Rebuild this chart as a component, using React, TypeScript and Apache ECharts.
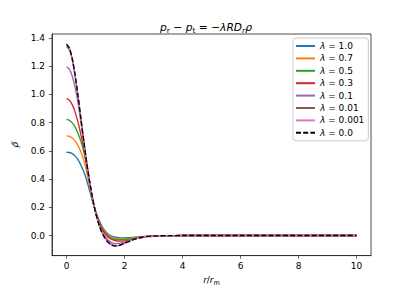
import React, { useEffect, useRef } from "react";
import * as echarts from "echarts";

const R = [0, 0.1, 0.2, 0.3, 0.4, 0.5, 0.6, 0.7, 0.8, 0.9, 1.0, 1.1, 1.2, 1.3, 1.4, 1.5, 1.6, 1.7, 1.8, 1.9, 2.0,
  2.2, 2.4, 2.6, 2.8, 3.0, 3.5, 4, 5, 6, 7, 8, 9, 10];

const lambdaLabels = ["1.0", "0.7", "0.5", "0.3", "0.1", "0.01", "0.001", "0.0"];

const rhoL10 = [0.590, 0.588, 0.580, 0.562, 0.535, 0.497, 0.450, 0.390, 0.315, 0.240, 0.175, 0.120, 0.075, 0.042, 0.018, 0.002, -0.007, -0.012, -0.015, -0.016, -0.016,
  -0.014, -0.011, -0.008, -0.005, -0.003, -0.001, 0, 0, 0, 0, 0, 0, 0];
const rhoL07 = [0.706, 0.702, 0.690, 0.668, 0.635, 0.590, 0.530, 0.445, 0.345, 0.250, 0.172, 0.112, 0.067, 0.034, 0.010, -0.006, -0.015, -0.020, -0.022, -0.023, -0.022,
  -0.018, -0.013, -0.009, -0.005, -0.003, -0.001, 0, 0, 0, 0, 0, 0, 0];
const rhoL05 = [0.822, 0.816, 0.798, 0.768, 0.722, 0.665, 0.590, 0.490, 0.370, 0.255, 0.170, 0.108, 0.062, 0.028, 0.003, -0.013, -0.023, -0.028, -0.030, -0.030, -0.028,
  -0.023, -0.016, -0.010, -0.006, -0.003, -0.001, 0, 0, 0, 0, 0, 0, 0];
const rhoL03 = [0.969, 0.958, 0.925, 0.872, 0.800, 0.712, 0.610, 0.495, 0.375, 0.258, 0.172, 0.105, 0.055, 0.020, -0.005, -0.021, -0.031, -0.037, -0.040, -0.040, -0.038,
  -0.031, -0.022, -0.014, -0.008, -0.005, -0.001, 0, 0, 0, 0, 0, 0, 0];
const rhoL01 = [1.195, 1.178, 1.128, 1.045, 0.935, 0.800, 0.650, 0.500, 0.372, 0.258, 0.168, 0.095, 0.040, 0.002, -0.025, -0.043, -0.053, -0.057, -0.056, -0.052, -0.046,
  -0.033, -0.021, -0.012, -0.006, -0.003, -0.0005, 0, 0, 0, 0, 0, 0, 0];
const rhoL001 = [1.340, 1.314, 1.240, 1.124, 0.978, 0.818, 0.659, 0.510, 0.379, 0.262, 0.165, 0.091, 0.033, -0.008, -0.038, -0.057, -0.068, -0.071, -0.069, -0.062, -0.054,
  -0.036, -0.022, -0.012, -0.006, -0.003, -0.0005, 0, 0, 0, 0, 0, 0, 0];
const rhoL0001 = [1.354, 1.327, 1.251, 1.132, 0.984, 0.822, 0.661, 0.512, 0.380, 0.262, 0.165, 0.090, 0.032, -0.010, -0.040, -0.060, -0.071, -0.074, -0.071, -0.064, -0.055,
  -0.037, -0.022, -0.012, -0.006, -0.003, -0.0005, 0, 0, 0, 0, 0, 0, 0];
const rhoL0 = [1.355, 1.328, 1.252, 1.133, 0.985, 0.823, 0.662, 0.512, 0.380, 0.262, 0.165, 0.090, 0.032, -0.010, -0.040, -0.060, -0.071, -0.074, -0.071, -0.064, -0.055,
  -0.037, -0.022, -0.012, -0.006, -0.003, -0.0005, 0, 0, 0, 0, 0, 0, 0];

const seriesValues = [rhoL10, rhoL07, rhoL05, rhoL03, rhoL01, rhoL001, rhoL0001, rhoL0];
const colors = ["#1f77b4", "#ff7f0e", "#2ca02c", "#d62728", "#9467bd", "#8c564b", "#e377c2", "#000000"];

const xTicks = [0, 2, 4, 6, 8, 10];
const yTicks = [0, 0.2, 0.4, 0.6, 0.8, 1.0, 1.2, 1.4];

const FONT = "DejaVu Sans";

export default function App() {
  const ref = useRef<HTMLDivElement>(null);
  useEffect(() => {
    if (!ref.current) return;
    const chart = echarts.init(ref.current, undefined, { renderer: "svg" });
    const series = seriesValues.map((vals, i) => ({
      name: `λ = ${lambdaLabels[i]}`,
      type: "line",
      data: R.map((r, j) => [r, vals[j]]),
      showSymbol: false,
      symbol: "none",
      smooth: 0.2,
      lineStyle: {
        color: colors[i],
        width: 1.35,
        type: i === 7 ? [5, 2.2] : "solid",
      },
      itemStyle: { color: colors[i] },
      z: 2 + i,
    }));
    const tStyle = { fontFamily: FONT, color: "#000", fontWeight: "normal", verticalAlign: "middle" };
    chart.setOption({
      animation: false,
      backgroundColor: "#ffffff",
      title: {
        text: "{i|p}{s|r}{n| − }{i|p}{s|t}{n| = −}{i|λRD}{si|r}{i|ρ}",
        left: "center",
        top: 15,
        textStyle: {
          fontWeight: "normal",
          rich: {
            i: { ...tStyle, fontStyle: "italic", fontSize: 10.7 },
            n: { ...tStyle, fontSize: 10.7 },
            s: { ...tStyle, fontSize: 7.5, padding: [6, 0, 0, 0] },
            si: { ...tStyle, fontStyle: "italic", fontSize: 7.5, padding: [6, 0, 0, 0] },
          },
        },
      },
      grid: {
        left: 52,
        right: 41,
        top: 34,
        bottom: 33,
        show: true,
        borderColor: "#222",
        borderWidth: 0.8,
        backgroundColor: "transparent",
      },
      legend: {
        orient: "vertical",
        left: 293,
        top: 38,
        padding: [3, 4, 3, 2],
        itemWidth: 19,
        itemHeight: 8,
        itemGap: 2.4,
        backgroundColor: "rgba(255,255,255,0.8)",
        borderColor: "#cccccc",
        borderWidth: 1,
        borderRadius: 3,
        itemStyle: { opacity: 0, borderWidth: 0 },
        data: lambdaLabels.map((l) => `λ = ${l}`),
        formatter: (name: string) => `{i|λ}{n| = ${name.split("= ")[1]}}`,
        textStyle: {
          fontFamily: FONT,
          fontSize: 9,
          lineHeight: 10,
          color: "#000",
          rich: {
            i: { fontFamily: FONT, fontStyle: "italic", fontSize: 9, lineHeight: 10, color: "#000" },
            n: { fontFamily: FONT, fontSize: 9, lineHeight: 10, color: "#000" },
          },
        },
      },
      xAxis: {
        type: "value",
        min: -0.5,
        max: 10.5,
        splitLine: { show: false },
        axisLine: { show: true, onZero: false, lineStyle: { color: "#222", width: 0.8 } },
        axisTick: { show: true, length: 3.1, customValues: xTicks, lineStyle: { color: "#222", width: 0.7 } },
        axisLabel: {
          customValues: xTicks,
          fontFamily: FONT,
          fontSize: 9,
          color: "#000",
          margin: 6,
          formatter: (v: number) => String(v),
        },
        name: "{i|r}{n|/}{i|r}{s|m}",
        nameLocation: "middle",
        nameGap: 17,
        nameTextStyle: {
          rich: {
            i: { ...tStyle, fontStyle: "italic", fontSize: 9 },
            n: { ...tStyle, fontSize: 9 },
            s: { ...tStyle, fontSize: 6.5, padding: [5, 0, 0, 0] },
          },
        },
      },
      yAxis: {
        type: "value",
        min: -0.142,
        max: 1.427,
        splitLine: { show: false },
        axisLine: { show: true, onZero: false, lineStyle: { color: "#222", width: 0.8 } },
        axisTick: { show: true, length: 3.1, customValues: yTicks, lineStyle: { color: "#222", width: 0.7 } },
        axisLabel: {
          customValues: yTicks,
          fontFamily: FONT,
          fontSize: 9,
          color: "#000",
          margin: 7,
          formatter: (v: number) => v.toFixed(1),
        },
        name: "ρ̃",
        nameLocation: "middle",
        nameRotate: 90,
        nameGap: 25,
        nameTextStyle: { fontFamily: FONT, fontStyle: "italic", fontSize: 9, color: "#000" },
      },
      series,
    });
    return () => chart.dispose();
  }, []);
  return (
    <div
      ref={ref}
      style={{ position: "fixed", left: 0, top: 0, width: 412, height: 291, background: "#fff" }}
    />
  );
}
